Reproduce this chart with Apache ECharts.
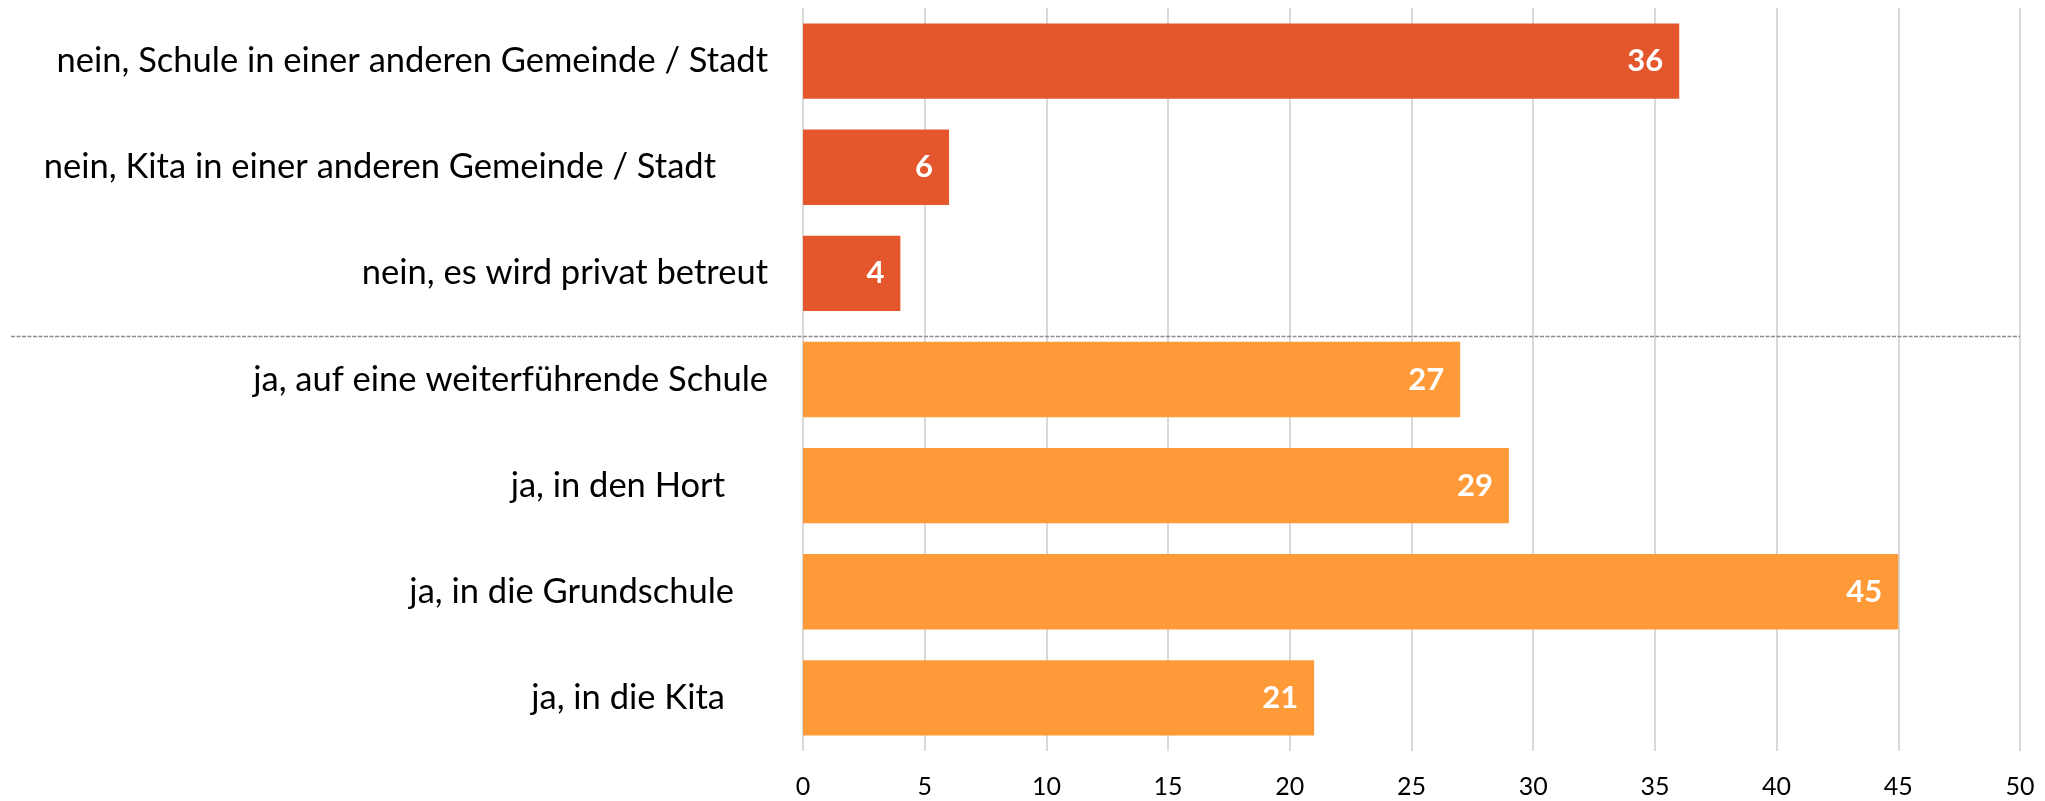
<!DOCTYPE html>
<html>
<head>
<meta charset="utf-8">
<script src="https://cdn.jsdelivr.net/npm/echarts@6/dist/echarts.min.js"></script>
<style>
  html, body { margin: 0; padding: 0; background: #fff; }
  #chart { width: 2045px; height: 801px; }
</style>
</head>
<body>
<div id="chart"></div>
<script>
// categories, top to bottom
const categories = [
  'nein, Schule in einer anderen Gemeinde / Stadt',
  'nein, Kita in einer anderen Gemeinde / Stadt',
  'nein, es wird privat betreut',
  'ja, auf eine weiterführende Schule',
  'ja, in den Hort',
  'ja, in die Grundschule',
  'ja, in die Kita'
];
const values = [36, 6, 4, 27, 29, 45, 21];
const groups = ['nein', 'nein', 'nein', 'ja', 'ja', 'ja', 'ja'];
const xTicks = [0, 5, 10, 15, 20, 25, 30, 35, 40, 45, 50];

const colors = { nein: '#E4572C', ja: '#FE9B38' };
// trailing gaps of the category labels (the original had padded text)
const labelPad = [0, 52, 0, 0, 43, 34, 43];

const FONT = 'Lato, "Noto Sans", sans-serif';

const rich = {};
labelPad.forEach((p, i) => {
  rich['p' + i] = {
    fontFamily: FONT,
    fontSize: 34.5,
    color: '#000',
    padding: [0, p, 0, 0]
  };
});

const chart = echarts.init(document.getElementById('chart'));

chart.setOption({
  animation: false,
  backgroundColor: '#fff',
  grid: {
    left: 803,
    right: 25,
    top: 8,
    bottom: 50,
    containLabel: false
  },
  xAxis: {
    type: 'value',
    min: xTicks[0],
    max: xTicks[xTicks.length - 1],
    interval: xTicks[1] - xTicks[0],
    axisLine: { show: false },
    axisTick: { show: false },
    axisLabel: {
      margin: 23,
      fontFamily: FONT,
      fontSize: 25,
      color: '#000'
    },
    splitLine: {
      lineStyle: { color: '#D9D9D9', width: 2 }
    }
  },
  yAxis: {
    type: 'category',
    inverse: true,
    data: categories,
    axisLine: { show: false },
    axisTick: { show: false },
    axisLabel: {
      margin: 35,
      formatter: (value, index) => '{p' + index + '|' + value + '}',
      rich: rich
    }
  },
  series: [{
    type: 'bar',
    barCategoryGap: '29%',
    data: values.map((v, i) => ({
      value: v,
      itemStyle: { color: colors[groups[i]] }
    })),
    label: {
      show: true,
      position: 'insideRight',
      distance: 16,
      color: '#fff',
      fontFamily: FONT,
      fontWeight: 'bold',
      fontSize: 31
    }
  }]
});

// dashed separator between the "nein" and "ja" groups
const firstJa = groups.indexOf('ja');
const yPrev = chart.convertToPixel({ yAxisIndex: 0 }, categories[firstJa - 1]);
const yNext = chart.convertToPixel({ yAxisIndex: 0 }, categories[firstJa]);
const sepY = Math.round(yPrev + (yNext - yPrev) * 0.59) + 0.5;
const xEnd = chart.convertToPixel({ xAxisIndex: 0 }, xTicks[xTicks.length - 1]);

chart.setOption({
  graphic: [{
    type: 'line',
    shape: { x1: 11, y1: sepY, x2: xEnd, y2: sepY },
    style: { stroke: '#8C8C8C', lineWidth: 1.3, lineDash: [4, 1.5] },
    z: 10
  }]
});
</script>
</body>
</html>
